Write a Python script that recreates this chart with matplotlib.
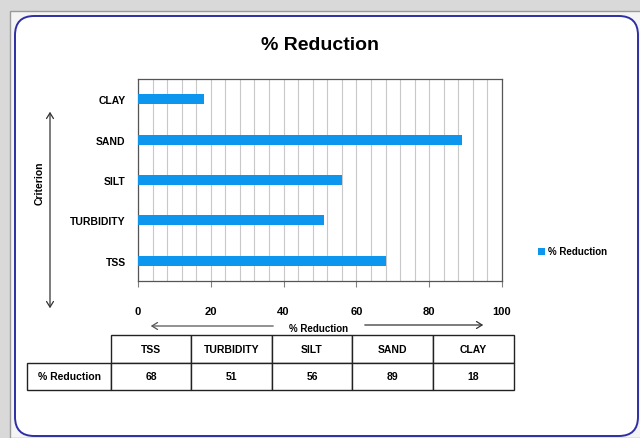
import matplotlib
matplotlib.use("Agg")
import matplotlib.pyplot as plt
from matplotlib.patches import FancyBboxPatch, Rectangle, FancyArrowPatch
import numpy as np

# Data
criteria = ["TSS", "TURBIDITY", "SILT", "SAND", "CLAY"]
reduction = [68, 51, 56, 89, 18]
series_name = "% Reduction"
x_ticks = [0, 20, 40, 60, 80, 100]

W, H = 640, 439
BAR_COLOR = "#0C96EE"
FONT = "Liberation Sans"

plt.rcParams["font.family"] = [FONT, "DejaVu Sans"]
plt.rcParams["font.weight"] = "bold"

fig = plt.figure(figsize=(W / 100, H / 100), dpi=100)
fig.patch.set_facecolor("#d9d9d9")


def fx(px):
    return px / W


def fy(py):
    return 1 - py / H


# Window frame and white chart area with rounded border (kept behind everything)
fig.patches.append(Rectangle((fx(10), 0), 1, fy(12), transform=fig.transFigure,
                             facecolor="#f4f4f4", edgecolor="#9a9a9a", lw=1.0,
                             zorder=-3))
fig.patches.append(FancyBboxPatch((fx(15), fy(437)), fx(623), (437 - 17) / H,
                                  boxstyle="round,pad=0,rounding_size=0.03",
                                  transform=fig.transFigure, mutation_aspect=W / H,
                                  facecolor="white", edgecolor="#2e2ea6", lw=1.4,
                                  zorder=-2))

# Title
fig.text(0.5, fy(45), "% Reduction", ha="center", va="center",
         fontsize=14, fontweight="bold")

# Main bar axes
ax = fig.add_axes([fx(138), fy(282), fx(364), (282 - 80) / H])
y = np.arange(len(criteria))
ax.barh(y, reduction, height=0.25, color=BAR_COLOR, zorder=3)
ax.set_xlim(0, 100)
ax.set_ylim(-0.5, len(criteria) - 0.5)
ax.set_yticks(y)
ax.set_yticklabels(criteria, fontsize=7.5, fontweight="bold")
ax.set_xticks(x_ticks)
ax.set_xticklabels([str(t) for t in x_ticks], fontsize=8, fontweight="bold")
ax.set_xticks(np.arange(0, 101, 4), minor=True)
ax.xaxis.grid(True, which="both", color="#c8c8c8", lw=0.8, zorder=0)
ax.tick_params(axis="y", length=0, pad=9)
ax.tick_params(axis="x", which="major", length=4, pad=14, color="#808080")
ax.tick_params(axis="x", which="minor", length=0)
for s in ax.spines.values():
    s.set_color("#555555")
    s.set_linewidth(0.9)

# Y label with double arrow
fig.text(fx(40), fy(183), "Criterion", rotation=90, ha="center", va="center",
         fontsize=7.5, fontweight="bold")
fig.add_artist(FancyArrowPatch(
    (fx(50), fy(110)), (fx(50), fy(312)), transform=fig.transFigure,
    arrowstyle="<->,head_length=4,head_width=2.5", color="#333333", lw=0.9))

# X label with double arrow
fig.add_artist(FancyArrowPatch(
    (fx(148), fy(327)), (fx(276), fy(327)), transform=fig.transFigure,
    arrowstyle="<-,head_length=4,head_width=2.5", color="#555555", lw=0.9))
fig.add_artist(FancyArrowPatch(
    (fx(362), fy(326)), (fx(486), fy(326)), transform=fig.transFigure,
    arrowstyle="->,head_length=4,head_width=2.5", color="#333333", lw=0.9))
fig.text(fx(319), fy(329), series_name, ha="center", va="center",
         fontsize=7, fontweight="bold")

# Legend
fig.patches.append(Rectangle((fx(538), fy(256)), fx(7), 7 / H,
                             transform=fig.transFigure, facecolor=BAR_COLOR,
                             edgecolor="none"))
fig.text(fx(548), fy(252.5), series_name, ha="left", va="center",
         fontsize=7, fontweight="bold")

# Data table
tax = fig.add_axes([fx(27), fy(391), fx(514 - 27), (391 - 336) / H])
tax.axis("off")
cell_text = [[""] + criteria, [series_name] + [str(v) for v in reduction]]
col_px = [84, 80, 81, 80, 81, 81]
tbl = tax.table(cellText=cell_text, colWidths=[c / sum(col_px) for c in col_px],
                bbox=[0, 0, 1, 1], cellLoc="center")
tbl.auto_set_font_size(False)
tbl.set_fontsize(7.5)
for (r, c), cell in tbl.get_celld().items():
    cell.set_linewidth(1.0)
    cell.set_edgecolor("#222222")
    cell.set_text_props(fontweight="bold", fontsize=7.5, family=[FONT, "DejaVu Sans"])
    if r == 0 and c == 0:
        cell.visible_edges = ""

fig.savefig("out.png", dpi=100, facecolor=fig.get_facecolor())
